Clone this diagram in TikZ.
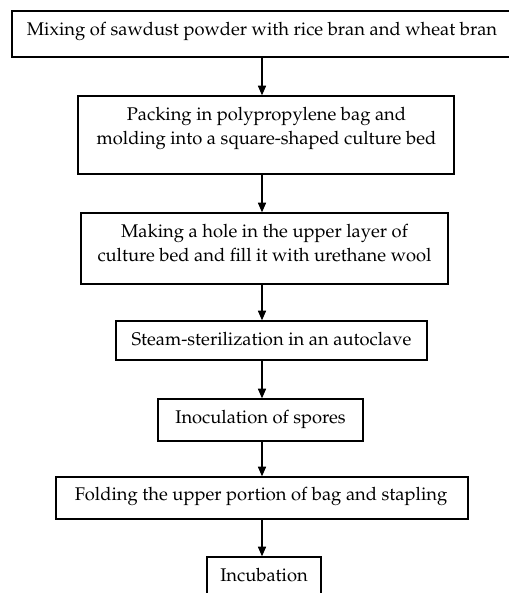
\documentclass[tikz,border=0pt]{standalone}
\usepackage[T1]{fontenc}
\usepackage{mathpazo}
\usepackage{tikz}
\usetikzlibrary{arrows.meta,positioning,calc}

\def\pix{0.02cm}

\tikzset{
    stagebox/.style={draw, line width=0.75pt, inner sep=0pt},
    stagetext/.style={align=center, anchor=north, inner sep=0pt, font=\fontsize{10.45}{13.6}\selectfont},
    flow/.style={line width=0.8pt, -{Triangle[length=5.5pt,width=4.6pt]}}
}

\begin{document}
\begin{tikzpicture}[x=\pix, y=-\pix]

    % --- frame of the figure (pixel grid, y downwards) ---
                \useasboundingbox (0,0) rectangle (509,593);
                \clip (0,0) rectangle (509,593);

    % --- arrow column ---
                \coordinate (ax) at (262,0);

    % --- boxes ---
                \node[stagebox, minimum width=500*\pix, minimum height=46*\pix] (b1) at (262,34) {};
                \node[stagebox, minimum width=376*\pix, minimum height=78*\pix] (b2) at (266,135) {};
                \node[stagebox, minimum width=367*\pix, minimum height=71*\pix] (b3) at (264.5,248.5) {};
                \node[stagebox, minimum width=311*\pix, minimum height=39*\pix] (b4) at (271.5,340.5) {};
                \node[stagebox, minimum width=205*\pix, minimum height=42*\pix] (b5) at (260.5,420) {};
                \node[stagebox, minimum width=412*\pix, minimum height=42*\pix] (b6) at (262,498) {};
                \node[stagebox, minimum width=114*\pix, minimum height=48*\pix] (b7) at (264,581) {};

    % --- texts (top aligned, as in the original) ---
                \node[stagetext] (t1) at (262,22) {Mixing of sawdust powder with rice bran and wheat bran};
                \node[stagetext] (t2) at (266.5,107) {Packing in polypropylene bag and\\molding into a square-shaped culture bed};
                \node[stagetext] (t3) at (264.5,224) {Making a hole in the upper layer of\\culture bed and fill it with urethane wool};
                \node[stagetext] (t4) at (271.5,332) {Steam-sterilization in an autoclave};
                \node[stagetext] (t5) at (260.5,410) {Inoculation of spores};
                \node[stagetext] (t6) at (261,487) {Folding the upper portion of bag and stapling};
                \node[stagetext] (t7) at (264,568) {Incubation};

    % --- arrows ---
                \draw[flow] (b1.south -| ax) -- (b2.north -| ax);
                \draw[flow] (b2.south -| ax) -- (b3.north -| ax);
                \draw[flow] (b3.south -| ax) -- (b4.north -| ax);
                \draw[flow] (b4.south -| ax) -- (b5.north -| ax);
                \draw[flow] (b5.south -| ax) -- (b6.north -| ax);
                \draw[flow] (b6.south -| ax) -- (b7.north -| ax);

\end{tikzpicture}
\end{document}
